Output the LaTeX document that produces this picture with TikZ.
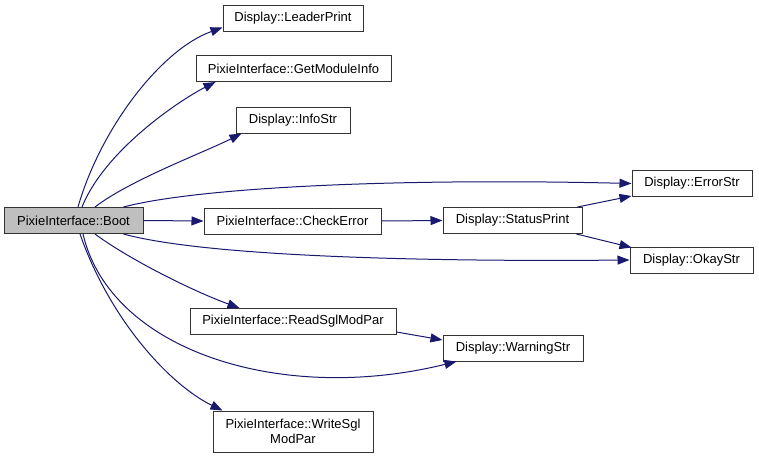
\documentclass[tikz,border=0pt]{standalone}
\usepackage{fontspec}
\setmainfont{Liberation Sans}
\usetikzlibrary{arrows.meta,calc}
\definecolor{edgec}{HTML}{191970}
\definecolor{rootfill}{HTML}{BFBFBF}
\begin{document}
\begin{tikzpicture}[x=1pt,y=-1pt,
  box/.style={draw=black!80, line width=1pt, inner sep=0pt, minimum height=26pt,
    font=\fontsize{13}{15}\selectfont, align=center},
  edge/.style={draw=edgec, line width=1pt, -{Triangle[length=12pt,width=9pt]}, fill=none}]
\useasboundingbox (0,0) rectangle (759,458);
\fill[white] (0,0) rectangle (759,458);

\node[box, fill=rootfill, minimum width=139pt] (boot) at (73.5,220.5) {PixieInterface::Boot};
\node[box, minimum width=140pt] (leader) at (293,18.5) {Display::LeaderPrint};
\node[box, minimum width=195pt] (getmod) at (293.5,68.5) {PixieInterface::GetModuleInfo};
\node[box, minimum width=114pt] (info) at (293,120) {Display::InfoStr};
\node[box, minimum width=177pt] (check) at (292.5,221) {PixieInterface::CheckError};
\node[box, minimum width=139pt] (status) at (512.5,220.5) {Display::StatusPrint};
\node[box, minimum width=120pt] (error) at (692,183.5) {Display::ErrorStr};
\node[box, minimum width=123pt] (okay) at (691.5,260) {Display::OkayStr};
\node[box, minimum width=206pt] (read) at (293,321.5) {PixieInterface::ReadSglModPar};
\node[box, minimum width=140pt] (warn) at (513,348) {Display::WarningStr};
\node[box, minimum width=160pt, minimum height=41pt] (write) at (293,431.5) {PixieInterface::WriteSgl\\ModPar};

\draw[edge] ($(boot.north)+(4.5,0)$) .. controls (100,130) and (160,50) .. ($(leader.west)+(0,9)$);
\draw[edge] ($(boot.north)+(8.5,0)$) .. controls (105,150) and (180,100) .. ($(getmod.south west)+(20,0)$);
\draw[edge] ($(boot.north)+(21.5,0)$) .. controls (130,180) and (205,152) .. ($(info.south west)+(6,0)$);
\draw[edge] ($(boot.north east)+(-20,0)$) .. controls (200,187) and (400,178) .. (error.west);
\draw[edge] (boot.east) -- (check.west);
\draw[edge] ($(boot.south east)+(-20,0)$) .. controls (200,255) and (400,262) .. (okay.west);
\draw[edge] ($(boot.south)+(21.5,0)$) .. controls (130,260) and (195,292) .. ($(read.north west)+(50,0)$);
\draw[edge] ($(boot.south)+(9.5,0)$) .. controls (110,350) and (280,405) .. ($(warn.south west)+(14,0)$);
\draw[edge] ($(boot.south)+(6.5,0)$) .. controls (110,320) and (170,385) .. ($(write.north west)+(10,0)$);
\draw[edge] (check.east) -- (status.west);
\draw[edge] ($(status.north east)+(-5,0)$) -- ($(error.south west)+(0,-1)$);
\draw[edge] ($(status.south east)+(-6,0)$) -- ($(okay.north west)+(2,1)$);
\draw[edge] ($(read.south east)+(0,-3)$) -- ($(warn.west)+(0,-8)$);
\end{tikzpicture}
\end{document}
